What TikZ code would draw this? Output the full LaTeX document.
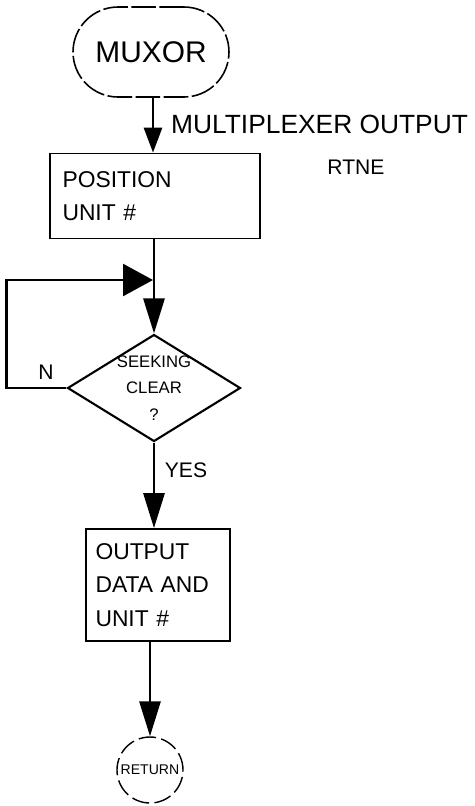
\documentclass[tikz,border=0pt]{standalone}
\usepackage{fontspec}
\setmainfont{Liberation Sans}
\usetikzlibrary{arrows.meta,shapes.geometric,positioning,calc}
\tikzstyle{flow} = [line width=1.6pt,-{Triangle[length=0.7cm,width=0.42cm]}]
\tikzstyle{terminal} = [rectangle, rounded corners=0.9cm, draw, line width=0.9pt, dash pattern=on 14pt off 2pt, minimum width=3.12cm, minimum height=1.8cm]
\tikzstyle{process} = [rectangle, draw, line width=1pt, align=left, font=\fontsize{13}{19}\selectfont]
\tikzstyle{decision} = [diamond, draw, line width=1.2pt, aspect=1.62, minimum width=3.46cm, minimum height=2.14cm, inner sep=-12pt, align=center, font=\fontsize{9.5}{15}\selectfont]

\begin{document}
\begin{tikzpicture}[x=0.02cm, y=-0.02cm]
    \useasboundingbox (0,0) rectangle (475,806);

    % Entry
    \node[terminal, font=\fontsize{17}{20}\selectfont] (muxor) at (151,52) {MUXOR};
    \node[font=\fontsize{15}{18}\selectfont, anchor=west] (mlabel) at (165,124) {MULTIPLEXER OUTPUT};
    \node[font=\fontsize{12}{15}\selectfont] (rlabel) at (356,167) {RTNE};

    % Position
    \node[process, minimum width=4.2cm, minimum height=1.7cm, text width=3.7cm] (posunit) at (155,196) {POSITION\\UNIT \#};

    % Seeking clear
    \node[decision] (seek) at (154,388) {SEEKING\\CLEAR\\?};
    \coordinate (join) at (153,280);
    \node[font=\fontsize{12}{15}\selectfont] (nolabel) at (46,372) {N};
    \node[font=\fontsize{12}{15}\selectfont] (yeslabel) at (186,470) {YES};

    % Output
    \node[process, minimum width=2.88cm, minimum height=2.24cm, text width=2.5cm] (outdata) at (158,585) {OUTPUT\\DATA AND\\UNIT \#};

    % Exit
    \node[circle, draw, line width=0.8pt, dash pattern=on 10pt off 3pt, minimum size=1.32cm, inner sep=0pt, font=\fontsize{8}{10}\selectfont] (ret) at (150,770) {RETURN};

    % Arrows
    \draw[line width=1.6pt, -{Triangle[length=0.5cm,width=0.36cm]}] (muxor.south -| posunit.north) ++(-2,0) -- ($(posunit.north)+(-2,0)$);
    \draw[flow] (posunit.south -| seek.north) -- (seek.north);
    \draw[line width=1.4pt, -{Triangle[length=0.6cm,width=0.64cm]}] (seek.west) -- ++(-60,0) |- (join);
    \draw[flow] (seek.south) -- (seek.south |- outdata.north);
    \draw[flow] (outdata.south -| ret.north) -- (ret.north);
\end{tikzpicture}
\end{document}
